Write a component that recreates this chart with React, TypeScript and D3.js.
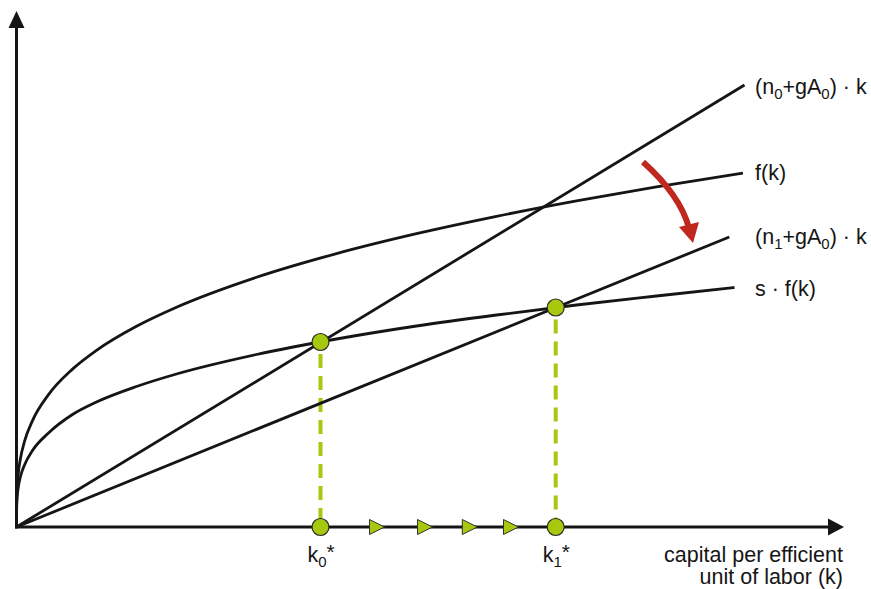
import React from "react";
import * as d3 from "d3";

const fGrid = [0, 0.01, 0.05, 0.2, 0.5, 1, 2, 4, 7, 10, 15, 20, 30, 40, 50, 60, 70, 80, 90.8];
const fValues = [0, 4.0, 6.66, 10.3, 13.75, 17.11, 21.28, 26.48, 31.58, 35.34, 40.15, 43.96, 49.95, 54.69, 58.67, 62.14, 65.23, 68.03, 70.8];
const sfGrid = [0, 0.01, 0.05, 0.2, 0.5, 1, 2, 4, 7, 10, 15, 20, 30, 40, 50, 60, 70, 80, 89.75];
const sfValues = [0, 3.1, 5.1, 7.7, 10.1, 12.4, 15.3, 18.8, 22.5, 25.0, 28.1, 30.6, 34.5, 37.6, 40.2, 42.4, 44.4, 46.2, 47.9];
const n0Line = [[0, 0], [91, 88.4]];
const n1Line = [[0, 0], [89.1, 58]];
const steadyK = [38, 67.4];
const steadyY = [37, 43.9];
const steadyLabels = ["0", "1"];
const transitionK = [45, 51, 56.6, 61.75];

const W = 871;
const H = 589;
const GREEN = "#a6c80e";
const RED = "#c0281f";
const INK = "#151515";
const FONT = "'Liberation Sans', Arial, Helvetica, sans-serif";
const FS = 21.5;
const SUB = 15;

export default function App() {
  const x = d3.scaleLinear().domain([0, 100]).range([16.5, 816.5]);
  const y = d3.scaleLinear().domain([0, 100]).range([527, 27]);
  const line = d3
    .line<number[]>()
    .x((d) => x(d[0]))
    .y((d) => y(d[1]))
    .curve(d3.curveMonotoneX);
  const fPts = fGrid.map((k, i) => [k, fValues[i]]);
  const sfPts = sfGrid.map((k, i) => [k, sfValues[i]]);
  const x0 = x(0);
  const y0 = y(0);

  const label = (lx: number, ly: number, parts: [string, string][]) => (
    <text x={lx} y={ly} fontFamily={FONT} fontSize={FS} fill={INK}>
      {parts.map(([t, kind], i) =>
        kind === "sub" ? (
          <tspan key={i} fontSize={SUB} dy={5}>{t}</tspan>
        ) : (
          <tspan key={i} dy={i > 0 && parts[i - 1][1] === "sub" ? -5 : 0}>{t}</tspan>
        )
      )}
    </text>
  );

  return (
    <svg
      width={W}
      height={H}
      style={{ position: "absolute", left: 0, top: 0, background: "#fff" }}
    >
      {steadyK.map((k, i) => (
        <line
          key={"d" + i}
          x1={x(k)}
          x2={x(k)}
          y1={y(steadyY[i])}
          y2={y0}
          stroke={GREEN}
          strokeWidth={4}
          strokeDasharray="14 8"
          strokeDashoffset={-12}
        />
      ))}
      <path d={line(fPts) || ""} fill="none" stroke={INK} strokeWidth={2.8} />
      <path d={line(sfPts) || ""} fill="none" stroke={INK} strokeWidth={2.8} />
      <path d={line(n0Line) || ""} fill="none" stroke={INK} strokeWidth={2.8} />
      <path d={line(n1Line) || ""} fill="none" stroke={INK} strokeWidth={2.8} />

      <line x1={x0} y1={y0 + 1.5} x2={x0} y2={26} stroke={INK} strokeWidth={3} />
      <polygon points={`${x0},11 ${x0 - 8},28 ${x0 + 8},28`} fill={INK} />
      <line x1={x0 - 1.5} y1={y0} x2={830} y2={y0} stroke={INK} strokeWidth={3} />
      <polygon points={`844,${y0} 828,${y0 - 8.5} 828,${y0 + 8.5}`} fill={INK} />

      {transitionK.map((k, i) => (
        <polygon
          key={"t" + i}
          points={`${x(k) - 7},${y0 - 7.5} ${x(k) + 8},${y0} ${x(k) - 7},${y0 + 7.5}`}
          fill={GREEN}
          stroke="#333"
          strokeWidth={1}
        />
      ))}

      {steadyK.map((k, i) => (
        <g key={"p" + i}>
          <circle cx={x(k)} cy={y(steadyY[i])} r={8.5} fill={GREEN} stroke="#2a2a2a" strokeWidth={1.2} />
          <circle cx={x(k)} cy={y0} r={8.5} fill={GREEN} stroke="#2a2a2a" strokeWidth={1.2} />
          <text x={x(k) - 13} y={562} fontFamily={FONT} fontSize={FS} fill={INK}>
            k
            <tspan fontSize={SUB} dy={5}>{steadyLabels[i]}</tspan>
            <tspan fontSize={21} dy={-8}>*</tspan>
          </text>
        </g>
      ))}

      <path d="M643,162 Q680,195 689,228" fill="none" stroke={RED} strokeWidth={6} />
      <polygon points="679,227 699,222 693,243" fill={RED} />

      {label(755, 94, [["(n", "n"], ["0", "sub"], ["+gA", "n"], ["0", "sub"], [") · k", "n"]])}
      {label(755, 180, [["f(k)", "n"]])}
      {label(755, 244, [["(n", "n"], ["1", "sub"], ["+gA", "n"], ["0", "sub"], [") · k", "n"]])}
      {label(755, 296, [["s · f(k)", "n"]])}

      <text x={843} y={562} textAnchor="end" fontFamily={FONT} fontSize={FS} fill={INK}>
        capital per efficient
      </text>
      <text x={843} y={584} textAnchor="end" fontFamily={FONT} fontSize={FS} fill={INK}>
        unit of labor (k)
      </text>
    </svg>
  );
}
